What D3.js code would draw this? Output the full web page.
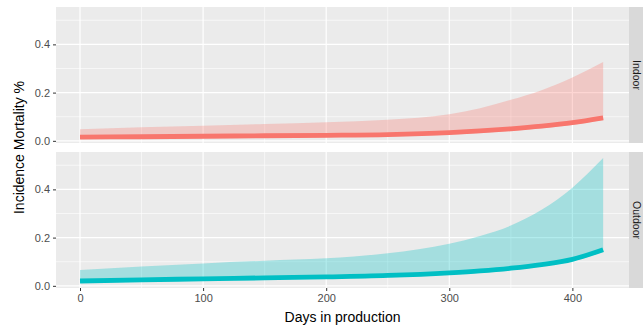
<!DOCTYPE html>
<html><head><meta charset="utf-8">
<script src="https://cdn.jsdelivr.net/npm/d3@7"></script>
<style>body{margin:0;background:#fff}svg{display:block;font-family:"Liberation Sans",Arial,sans-serif}</style>
</head><body><svg id="c" width="643" height="327"></svg>
<script>
const days = [0, 50, 100, 150, 200, 250, 300, 325, 350, 375, 400, 425];
const panels = ["Indoor", "Outdoor"];
const indoorFit   = [0.015, 0.017, 0.019, 0.021, 0.023, 0.026, 0.034, 0.041, 0.050, 0.061, 0.075, 0.095];
const indoorLow   = [0.008, 0.009, 0.011, 0.013, 0.015, 0.018, 0.025, 0.032, 0.041, 0.052, 0.066, 0.086];
const indoorHigh  = [0.048, 0.056, 0.063, 0.070, 0.077, 0.087, 0.110, 0.135, 0.170, 0.210, 0.263, 0.327];
const outdoorFit  = [0.020, 0.025, 0.029, 0.033, 0.037, 0.043, 0.054, 0.062, 0.073, 0.088, 0.110, 0.150];
const outdoorLow  = [0.012, 0.017, 0.021, 0.025, 0.029, 0.035, 0.046, 0.054, 0.065, 0.080, 0.102, 0.142];
const outdoorHigh = [0.066, 0.080, 0.093, 0.104, 0.114, 0.135, 0.175, 0.207, 0.250, 0.315, 0.407, 0.530];
const xTicks = [0, 100, 200, 300, 400];
const xMinor = [50, 150, 250, 350];
const yTicks = [0, 0.2, 0.4];
const yMinor = [0.1, 0.3, 0.5];
const colors = ["#F8766D", "#00BFC4"];

const series = [
  {fit: indoorFit, low: indoorLow, high: indoorHigh},
  {fit: outdoorFit, low: outdoorLow, high: outdoorHigh}
];

const svg = d3.select("#c");
const L = 56, R = 629;
const panelY = [[7, 143], [152, 288]];
const x = d3.scaleLinear().domain([-19.5, 446]).range([L, R]);

panels.forEach((name, i) => {
  const [top, bot] = panelY[i];
  const y = d3.scaleLinear().domain([-0.009, 0.555]).range([bot, top]);
  const g = svg.append("g");
  g.append("rect").attr("x", L).attr("y", top).attr("width", R - L).attr("height", bot - top).attr("fill", "#EBEBEB");
  g.selectAll(".xm").data(xMinor).join("line").attr("x1", d => x(d)).attr("x2", d => x(d)).attr("y1", top).attr("y2", bot).attr("stroke", "#fff").attr("stroke-width", 0.6);
  g.selectAll(".ym").data(yMinor).join("line").attr("y1", d => y(d)).attr("y2", d => y(d)).attr("x1", L).attr("x2", R).attr("stroke", "#fff").attr("stroke-width", 0.6);
  g.selectAll(".xM").data(xTicks).join("line").attr("x1", d => x(d)).attr("x2", d => x(d)).attr("y1", top).attr("y2", bot).attr("stroke", "#fff").attr("stroke-width", 1.2);
  g.selectAll(".yM").data(yTicks).join("line").attr("y1", d => y(d)).attr("y2", d => y(d)).attr("x1", L).attr("x2", R).attr("stroke", "#fff").attr("stroke-width", 1.2);

  const s = series[i];
  const pts = days.map((d, k) => ({d, fit: s.fit[k], low: s.low[k], high: s.high[k]}));
  const area = d3.area().x(p => x(p.d)).y0(p => y(p.low)).y1(p => y(p.high)).curve(d3.curveMonotoneX);
  g.append("path").datum(pts).attr("d", area).attr("fill", colors[i]).attr("fill-opacity", 0.3);
  const line = d3.line().x(p => x(p.d)).y(p => y(p.fit)).curve(d3.curveMonotoneX);
  g.append("path").datum(pts).attr("d", line).attr("fill", "none").attr("stroke", colors[i]).attr("stroke-width", 4.8);

  const ya = svg.append("g").attr("transform", `translate(${L},0)`)
    .call(d3.axisLeft(y).tickValues(yTicks).tickFormat(d3.format(".1f")).tickSize(3).tickPadding(3));
  ya.select(".domain").remove();
  ya.selectAll("line").attr("stroke", "#333");
  ya.selectAll("text").attr("fill", "#4D4D4D").attr("font-size", 11).attr("font-family", "Liberation Sans, Arial, sans-serif");

  svg.append("rect").attr("x", R).attr("y", top).attr("width", 20).attr("height", bot - top).attr("fill", "#D9D9D9");
  svg.append("text").attr("transform", `translate(${R + 4},${(top + bot) / 2}) rotate(90)`)
    .attr("text-anchor", "middle").attr("font-size", 10.5).attr("fill", "#1A1A1A").text(name);
});

const xa = svg.append("g").attr("transform", `translate(0,${panelY[1][1]})`)
  .call(d3.axisBottom(x).tickValues(xTicks).tickSize(3).tickPadding(3));
xa.select(".domain").remove();
xa.selectAll("line").attr("stroke", "#333");
xa.selectAll("text").attr("fill", "#4D4D4D").attr("font-size", 11).attr("font-family", "Liberation Sans, Arial, sans-serif");

svg.append("text").attr("x", (L + R) / 2).attr("y", 322).attr("text-anchor", "middle").attr("font-size", 14).attr("fill", "#000").text("Days in production");
svg.append("text").attr("transform", `translate(24,${(panelY[0][0] + panelY[1][1]) / 2}) rotate(-90)`).attr("text-anchor", "middle").attr("font-size", 14).attr("fill", "#000").text("Incidence Mortality %");
</script></body></html>
